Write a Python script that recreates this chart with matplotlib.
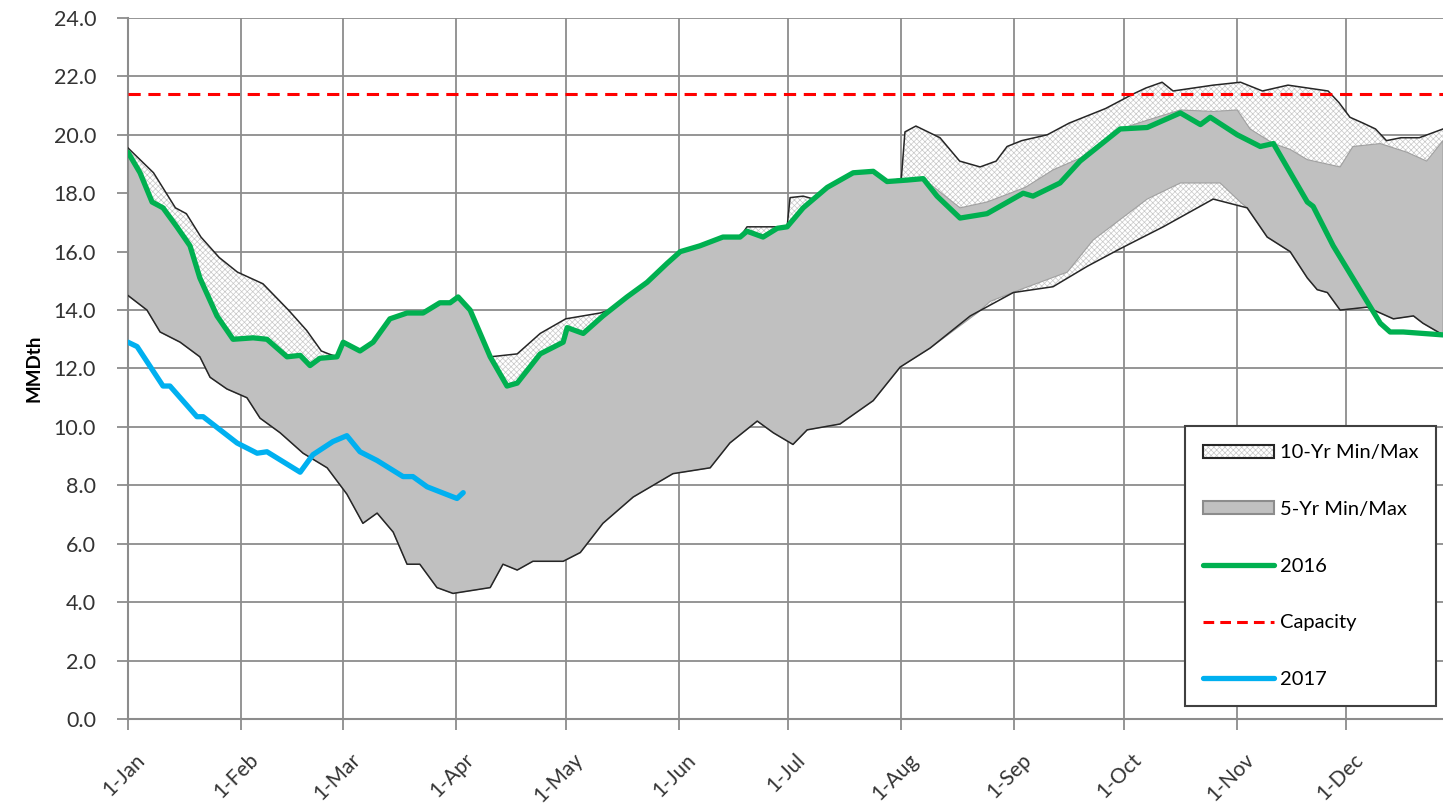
import numpy as np
import matplotlib.pyplot as plt
from matplotlib.patches import Patch
from matplotlib.lines import Line2D
from matplotlib.legend_handler import HandlerTuple
from matplotlib.transforms import ScaledTranslation

# day-of-year positions of the month ticks
month_days = [0, 31, 59, 90, 120, 151, 181, 212, 243, 273, 304, 334]
month_labels = ['1-Jan', '1-Feb', '1-Mar', '1-Apr', '1-May', '1-Jun',
                '1-Jul', '1-Aug', '1-Sep', '1-Oct', '1-Nov', '1-Dec']

# 10-year max (upper black line)
max10_days = [0, 7, 13, 16, 20, 25, 30, 37, 44, 49, 53, 55, 57.3, 59, 63.6, 67.2, 71.8,
              76.5, 80.9, 85.5, 88.3, 90.5, 93.8, 99.3, 106.7, 113, 120, 129.4, 132,
              136.8, 142.3, 147.8, 151.4, 156.8, 163.1, 167.8, 169.7, 180.7, 181.5, 185.1,
              188, 191.7, 198.8, 204.3, 208.1, 212, 213, 216, 222.6, 228, 233.6, 238, 241,
              245, 252, 258, 268, 275.6, 279, 283.5, 286.5, 297.5, 305, 311, 318, 329,
              332, 335, 338.6, 342, 345, 349, 354, 360.5]
max10_vals = [19.55, 18.7, 17.5, 17.3, 16.5, 15.8, 15.3, 14.9, 14.0, 13.3, 12.6, 12.5, 12.4,
              12.9, 12.6, 12.9, 13.7, 13.9, 13.9, 14.25, 14.25, 14.45, 14.0, 12.4, 12.5,
              13.2, 13.7, 13.9, 14.0, 14.45, 14.95, 15.6, 16.0, 16.2, 16.5, 16.5, 16.85,
              16.85, 17.85, 17.9, 17.8, 18.2, 18.7, 18.75, 18.4, 18.5, 20.1, 20.3, 19.9,
              19.1, 18.9, 19.1, 19.6, 19.8, 20.0, 20.4, 20.9, 21.4, 21.6, 21.8, 21.5, 21.7,
              21.8, 21.5, 21.7, 21.5, 21.1, 20.6, 20.4, 20.2, 19.8, 19.9, 19.9, 20.2]

# 10-year min (lower black line)
min10_days = [0, 5.2, 8.8, 14.3, 19.7, 22.5, 27.1, 32.6, 36.2, 41.7, 48, 54.6, 60, 64.4,
              68.3, 72.7, 76.5, 80, 84.7, 89.1, 99.3, 102.8, 106.7, 111, 119.3, 124, 130.2,
              138.5, 149.4, 159.6, 165, 172.5, 176.9, 182.3, 186.2, 195.2, 204.3, 211.7,
              219.9, 230.9, 242.7, 253.6, 263, 272, 283.8, 297.5, 306.8, 312.3, 318.6,
              323.3, 326, 328.8, 332.3, 339.7, 346.9, 352.4, 355, 360.5]
min10_vals = [14.5, 14.0, 13.25, 12.9, 12.4, 11.7, 11.3, 11.0, 10.3, 9.8, 9.1, 8.6, 7.7, 6.7,
              7.05, 6.4, 5.3, 5.3, 4.5, 4.3, 4.5, 5.3, 5.1, 5.4, 5.4, 5.7, 6.7, 7.6, 8.4, 8.6,
              9.45, 10.2, 9.8, 9.4, 9.9, 10.1, 10.9, 12.05, 12.7, 13.8, 14.6, 14.8, 15.5,
              16.1, 16.85, 17.8, 17.5, 16.5, 16.0, 15.1, 14.7, 14.6, 14.0, 14.1, 13.7, 13.8,
              13.55, 13.15]

# 5-year max (top of grey band)
max5_days = [0, 3.3, 6.6, 9.6, 13.4, 17, 19.7, 24.4, 28.8, 34.3, 38.1, 43.6, 47.2, 49.9,
             52.6, 57.3, 59, 63.6, 67.2, 71.8, 76.5, 80.9, 85.5, 88.3, 90.5, 93.8, 99.3,
             103.9, 106.7, 113, 119.3, 120.4, 124.8, 130.2, 136.8, 142.3, 147.8, 151.4,
             156.8, 163.1, 167.8, 169.7, 174.1, 178, 180.7, 185.1, 191.7, 198.8, 204.3,
             208.1, 213.6, 218, 228.1, 235.5, 246, 253.6, 261, 272, 279.4, 288.5, 297.5,
             304.1, 307.6, 314, 318.6, 323.3, 332.3, 335.8, 343.3, 350.7, 356, 360.5]
max5_vals = [19.4, 18.7, 17.7, 17.5, 16.85, 16.2, 15.1, 13.8, 13.0, 13.05, 13.0, 12.4, 12.45,
             12.1, 12.35, 12.4, 12.9, 12.6, 12.9, 13.7, 13.9, 13.9, 14.25, 14.25, 14.45,
             14.0, 12.4, 11.4, 11.5, 12.5, 12.9, 13.4, 13.2, 13.8, 14.45, 14.95, 15.6, 16.0,
             16.2, 16.5, 16.5, 16.7, 16.5, 16.8, 16.85, 17.5, 18.2, 18.7, 18.75, 18.4, 18.45,
             18.5, 17.5, 17.7, 18.2, 18.8, 19.2, 20.2, 20.5, 20.85, 20.8, 20.85, 20.2, 19.7,
             19.5, 19.15, 18.9, 19.6, 19.7, 19.4, 19.1, 19.8]

# 5-year min (bottom of grey band) - differs from 10-yr min in Aug-Nov
min5_days = min10_days[:39] + [232.8, 236.4, 244.6, 257.5, 264.6, 272, 279.4, 288.5,
                               299.4, 304.9] + min10_days[46:]
min5_vals = min10_vals[:39] + [13.9, 14.3, 14.7, 15.3, 16.4, 17.1, 17.8, 18.35,
                               18.35, 17.7] + min10_vals[46:]

# 2016
y2016_days = [0, 3.3, 6.6, 9.6, 13.4, 17, 19.7, 24.4, 28.8, 34.3, 38.1, 43.6, 47.2, 49.9,
              52.6, 57.3, 59, 63.6, 67.2, 71.8, 76.5, 80.9, 85.5, 88.3, 90.5, 93.8, 99.3,
              103.9, 106.7, 113, 119.3, 120.4, 124.8, 130.2, 136.8, 142.3, 147.8, 151.4,
              156.8, 163.1, 167.8, 169.7, 174.1, 178, 180.7, 185.1, 191.7, 198.8, 204.3,
              208.1, 213.6, 218, 221.8, 228.1, 235.5, 245.4, 248.1, 255.5, 261, 272, 279.4,
              288.5, 294, 296.7, 304.1, 310.4, 314, 323.3, 324.9, 330.4, 343.3, 346, 349.6,
              360.5]
y2016_vals = [19.4, 18.7, 17.7, 17.5, 16.85, 16.2, 15.1, 13.8, 13.0, 13.05, 13.0, 12.4, 12.45,
              12.1, 12.35, 12.4, 12.9, 12.6, 12.9, 13.7, 13.9, 13.9, 14.25, 14.25, 14.45,
              14.0, 12.4, 11.4, 11.5, 12.5, 12.9, 13.4, 13.2, 13.8, 14.45, 14.95, 15.6, 16.0,
              16.2, 16.5, 16.5, 16.7, 16.5, 16.8, 16.85, 17.5, 18.2, 18.7, 18.75, 18.4, 18.45,
              18.5, 17.9, 17.15, 17.3, 18.0, 17.9, 18.35, 19.1, 20.2, 20.25, 20.75, 20.35,
              20.6, 20.0, 19.6, 19.7, 17.7, 17.55, 16.2, 13.55, 13.25, 13.25, 13.15]

# 2017
y2017_days = [0, 2.5, 9.6, 11.5, 18.9, 20.6, 29.9, 35.4, 38.1, 47.2, 50.7, 56.2, 60, 63.6,
              68.3, 75.4, 78.1, 82, 90.2, 91.9]
y2017_vals = [12.9, 12.75, 11.4, 11.4, 10.35, 10.35, 9.45, 9.1, 9.15, 8.45, 9.05, 9.5, 9.7,
              9.15, 8.85, 8.3, 8.3, 7.95, 7.55, 7.75]

capacity = 21.4

plt.rcParams['font.family'] = ['Lato', 'DejaVu Sans']
plt.rcParams['hatch.linewidth'] = 0.5

fig = plt.figure(figsize=(14.43, 8.09), dpi=100)
ax = fig.add_axes([0.0887, 0.1112, 0.9113, 0.8666])

hatch_col = '#c8c8c8'
ax.fill(np.r_[max10_days, min10_days[::-1]], np.r_[max10_vals, min10_vals[::-1]],
        facecolor='white', edgecolor=hatch_col, hatch='xxxxxx', linewidth=0, zorder=1)
ax.fill(np.r_[max5_days, min5_days[::-1]], np.r_[max5_vals, min5_vals[::-1]],
        facecolor='#c0c0c0', edgecolor='#a0a0a0', linewidth=0.8, zorder=2)
ax.plot(max10_days, max10_vals, color='#262626', lw=1.1, zorder=3)
ax.plot(min10_days, min10_vals, color='#262626', lw=1.1, zorder=3)

ax.axhline(capacity, color='#ff0000', lw=2.2, dashes=(4, 2.5), zorder=4)
ax.plot(y2016_days, y2016_vals, color='#00b050', lw=3.8, solid_capstyle='round',
        solid_joinstyle='round', zorder=5)
ax.plot(y2017_days, y2017_vals, color='#00b0f0', lw=3.8, solid_capstyle='round',
        solid_joinstyle='round', zorder=5)

ax.set_xlim(0, 360.5)
ax.set_ylim(0, 24)
ax.set_yticks(np.arange(0, 24.1, 2))
ax.set_yticklabels(['%.1f' % v for v in np.arange(0, 24.1, 2)], fontsize=15.5, color='#333333')
ax.set_xticks(month_days)
ax.set_xticklabels(month_labels, rotation=45, ha='right', rotation_mode='anchor',
                   fontsize=15, color='#333333')
ax.tick_params(axis='both', length=8, width=1.3, color='#8c8c8c', direction='out')
ax.tick_params(axis='y', pad=15)
ax.tick_params(axis='x', pad=14)
shift = ScaledTranslation(5 / 72, 0, fig.dpi_scale_trans)
for lbl in ax.get_xticklabels():
    lbl.set_transform(lbl.get_transform() + shift)

ax.grid(True, color='#8c8c8c', lw=1.3)
ax.set_axisbelow(True)
for s in ['top', 'right']:
    ax.spines[s].set_visible(False)
for s in ['left', 'bottom']:
    ax.spines[s].set_color('#8c8c8c')
    ax.spines[s].set_linewidth(1.5)

ax.set_ylabel('MMDth', fontsize=13.5, fontweight='bold', labelpad=8)

h10 = (Patch(facecolor='white', edgecolor=hatch_col, hatch='xxxxxx', linewidth=0),
       Patch(facecolor='none', edgecolor='#262626', linewidth=1.5))
h5 = Patch(facecolor='#c0c0c0', edgecolor='#8c8c8c', linewidth=1.5)
h16 = Line2D([], [], color='#00b050', lw=3.8, solid_capstyle='round')
hcap = Line2D([], [], color='#ff0000', lw=2.2, dashes=(3.5, 2))
h17 = Line2D([], [], color='#00b0f0', lw=3.8, solid_capstyle='round')
leg = ax.legend([h10, h5, h16, hcap, h17],
                ['10-Yr Min/Max', '5-Yr Min/Max', '2016', 'Capacity', '2017'],
                handler_map={tuple: HandlerTuple(ndivide=1, pad=0)},
                loc='lower right', bbox_to_anchor=(0.995, 0.0185), fontsize=14.5,
                labelspacing=1.97, handlelength=3.5, handleheight=0.6,
                handletextpad=0.3, borderpad=0.9, borderaxespad=0,
                fancybox=False, framealpha=1, edgecolor='#404040')
leg.get_frame().set_linewidth(1.5)
leg.set_zorder(10)

fig.savefig('out.png', dpi=100)
